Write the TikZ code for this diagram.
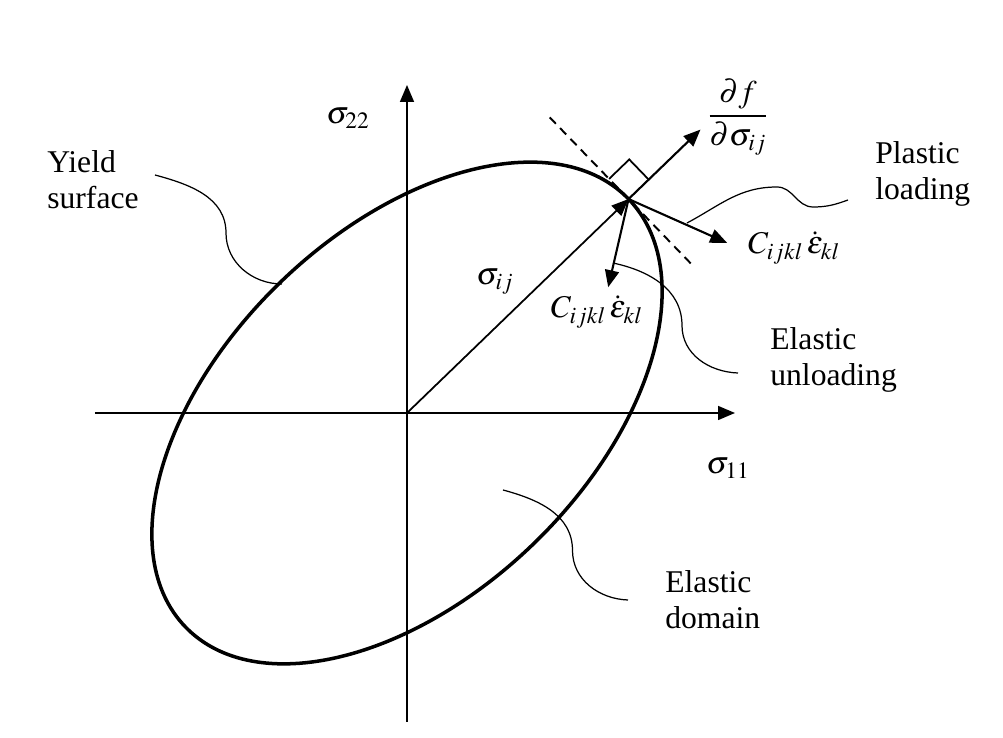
\documentclass[tikz,border=0pt]{standalone}
\usepackage{amsmath,amssymb}
\usepackage{mathptmx}
\usepackage{fontspec}
\setmainfont{Liberation Serif}
\usetikzlibrary{arrows.meta,calc}

\tikzset{
  etiquette/.style={anchor=west, align=left, inner sep=0pt},
  renvoi/.style={line width=0.7pt},
  vecteur/.style={->, line width=1.2pt}
}

\begin{document}
\begin{tikzpicture}[>={Triangle[length=0.34cm,width=0.28cm]}, font=\fontsize{18}{20.5}\selectfont]

  \useasboundingbox (-8.14,-6.50) rectangle (11.92,8.26);

  % ==========================================
  % AXES
  % ==========================================
  \coordinate (O) at (0,0);
  \coordinate (Xg) at (-6.24,0);
  \coordinate (Xd) at (6.56,0);
  \coordinate (Yb) at (0,-6.18);
  \coordinate (Yh) at (0,6.56);
  \draw[->, line width=0.9pt] (Xg) -- (Xd);
  \draw[->, line width=0.9pt] (Yb) -- (Yh);
  \node (s11) at (6.42,-1.10) {$\sigma_{11}$};
  \node (s22) at (-1.18,5.90) {$\sigma_{22}$};

  % ==========================================
  % SURFACE DE CHARGE
  % ==========================================
  \draw[line width=2pt, rotate=44] (O) ellipse (6.16cm and 3.64cm);

  % Point de contrainte sur la surface
  \coordinate (P) at (44:6.16);
  \draw[vecteur, line width=1pt] (O) -- (P);
  \node (sij) at (1.76,2.62) {$\sigma_{ij}$};

  % Tangente en pointillés
  \coordinate (Tg) at ($(P)+(134:2.27)$);
  \coordinate (Td) at ($(P)+(-46:1.9)$);
  \draw[line width=1.1pt, dash pattern=on 5pt off 3.5pt] (Tg) -- (Td);

  % Angle droit
  \coordinate (Ca) at ($(P)+(134:0.56)$);
  \coordinate (Cb) at ($(P)+(44:0.56)$);
  \coordinate (Cc) at ($(Ca)+(44:0.56)$);
  \draw[line width=1pt] (Ca) -- (Cc) -- (Cb);

  % Normale et increments
  \coordinate (N) at ($(P)+(44:2.0)$);
  \coordinate (Pl) at ($(P)+(-24:2.16)$);
  \coordinate (El) at ($(P)+(-103:1.81)$);
  \draw[vecteur] (P) -- (N);
  \draw[vecteur] (P) -- (Pl);
  \draw[vecteur] (P) -- (El);

  \node (dfds) at (6.62,5.92) {$\dfrac{\partial f}{\partial \sigma_{ij}}$};
  \node[anchor=west] (Cpl) at (6.70,3.30) {$C_{ijkl}\,\dot{\varepsilon}_{kl}$};
  \node (Cel) at (3.80,2.02) {$C_{ijkl}\,\dot{\varepsilon}_{kl}$};

  % ==========================================
  % LEGENDES ET RENVOIS
  % ==========================================
  \node[etiquette] (yield) at (-7.20,4.66) {Yield\\surface};
  \node[etiquette] (plast) at (9.36,4.79) {Plastic\\loading};
  \node[etiquette] (unload) at (7.26,1.06) {Elastic\\unloading};
  \node[etiquette] (domain) at (5.16,-3.74) {Elastic\\domain};

  % Renvoi : surface de charge
  \coordinate (yA) at (-5.04,4.76);
  \coordinate (yB) at (-2.50,2.58);
  \draw[renvoi] (yA) to[out=-15,in=90] (-3.62,3.6) to[out=-90,in=180] (yB);

  % Renvoi : chargement plastique
  \coordinate (pA) at (5.60,3.80);
  \coordinate (pB) at (8.82,4.26);
  \draw[renvoi] (pA) to[out=28,in=180] (7.40,4.52) to[out=0,in=180] (8.12,4.12) to[out=0,in=200] (pB);

  % Renvoi : decharge elastique
  \coordinate (uA) at (4.12,3.00);
  \coordinate (uB) at (6.62,0.80);
  \draw[renvoi] (uA) to[out=-12,in=90] (5.50,1.75) to[out=-90,in=178] (uB);

  % Renvoi : domaine elastique
  \coordinate (dA) at (1.92,-1.54);
  \coordinate (dB) at (4.42,-3.74);
  \draw[renvoi] (dA) to[out=-15,in=90] (3.31,-2.75) to[out=-90,in=178] (dB);

\end{tikzpicture}
\end{document}
